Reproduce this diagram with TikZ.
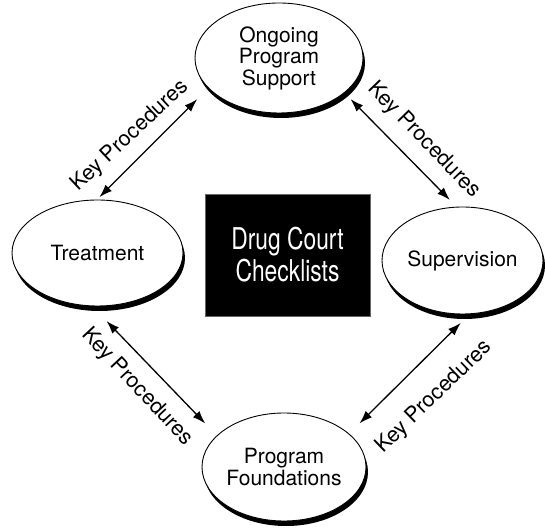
\documentclass[tikz,border=0pt]{standalone}
\usepackage{fontspec}
\setmainfont{TeX Gyre Heros}
\usetikzlibrary{arrows.meta,shapes.geometric,shadows}
\begin{document}
\begin{tikzpicture}[x=1pt,y=1pt,
  topic/.style={ellipse, draw=black, line width=0.9pt, fill=white, inner sep=0pt, outer sep=0pt,
    align=center, font=\fontsize{21}{21.5}\selectfont,
    drop shadow={shadow xshift=2pt, shadow yshift=-5pt, fill=black, opacity=1}},
  link/.style={line width=1.3pt, {Latex[length=13pt,width=9pt]}-{Latex[length=13pt,width=9pt]}},
  lbl/.style={font=\fontsize{21.5}{22}\selectfont, inner sep=0pt}]
\useasboundingbox (0,0) rectangle (545,529);

\node[topic, minimum width=168pt, minimum height=110pt] (top) at (279,471) {Ongoing\\Program\\Support};
\node[topic, minimum width=171pt, minimum height=106pt] (treat) at (97.5,276) {Treatment};
\node[topic, minimum width=161pt, minimum height=107pt] (sup) at (462.5,268.5) {Supervision};
\node[topic, minimum width=164pt, minimum height=108pt] (found) at (284,62) {Program\\Foundations};

\node[fill=black, draw=black!60, line width=0.5pt, minimum width=165pt, minimum height=122pt,
  text=white, align=center, font=\fontsize{30}{32}\selectfont] (box) at (287.5,274)
  {\scalebox{0.76}[1]{Drug Court}\\\scalebox{0.76}[1]{Checklists}};

\draw[link, shorten <=16pt, shorten >=4pt] (top.203) -- (treat.91);
\draw[link, shorten <=9pt, shorten >=10pt] (top.332) -- (sup.96);
\draw[link, shorten <=21pt, shorten >=17pt] (treat.264) -- (found.155);
\draw[link, shorten <=13pt, shorten >=15pt] (sup.278) -- (found.27);

\node[lbl, rotate=43] (l1) at (130,393) {Key Procedures};
\node[lbl, rotate=-46] (l2) at (424,389) {Key Procedures};
\node[lbl, rotate=-47] (l3) at (137,142) {Key Procedures};
\node[lbl, rotate=44] (l4) at (434,132) {Key Procedures};
\end{tikzpicture}
\end{document}
